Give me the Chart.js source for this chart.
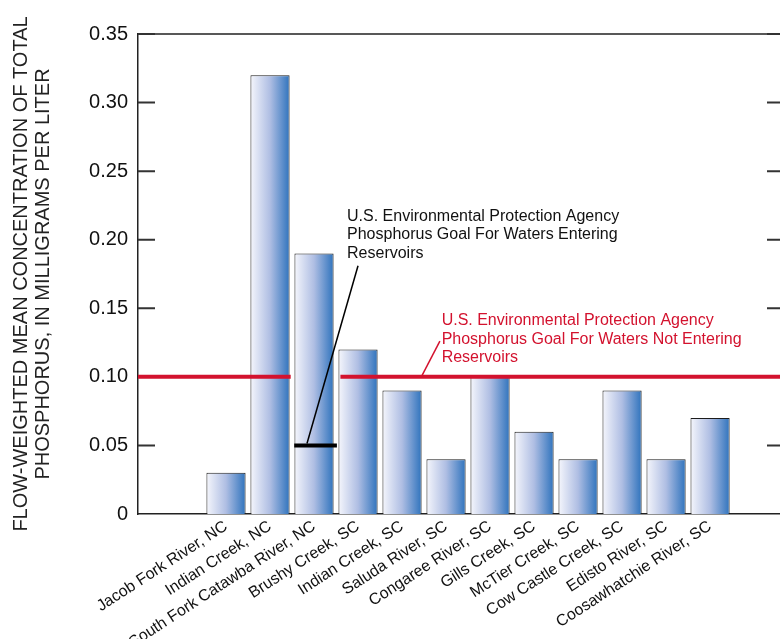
<!DOCTYPE html>
<html>
<head>
<meta charset="utf-8">
<title>Flow-weighted mean phosphorus</title>
<script src="https://cdn.jsdelivr.net/npm/chart.js@4/dist/chart.umd.min.js"></script>
<style>
    html, body { margin: 0; padding: 0; background: #fff; overflow: hidden; }
    #wrap { width: 784px; height: 639px; }
</style>
</head>
<body>
<div id="wrap"><canvas id="chart" width="784" height="639"></canvas></div>
<script>
/* Phosphorus concentrations by station, with EPA goal lines */

var stations = [
    'Jacob Fork River, NC', 'Indian Creek, NC', 'South Fork Catawba River, NC',
    'Brushy Creek, SC', 'Indian Creek, SC', 'Saluda River, SC', 'Congaree River, SC',
    'Gills Creek, SC', 'McTier Creek, SC', 'Cow Castle Creek, SC', 'Edisto River, SC',
    'Coosawhatchie River, SC'
];
var concentration = [0.03, 0.32, 0.19, 0.12, 0.09, 0.04, 0.10, 0.06, 0.04, 0.09, 0.04, 0.07];
var entersReservoir = [false, false, true, false, false, false, false, false, false, false, false, false];

var goalNotEntering = 0.10;
var goalEntering = 0.05;

var yTicks = [0, 0.05, 0.10, 0.15, 0.20, 0.25, 0.30, 0.35];
var yTitle = ['FLOW-WEIGHTED MEAN CONCENTRATION OF TOTAL', 'PHOSPHORUS, IN MILLIGRAMS PER LITER'];
var noteEntering = ['U.S. Environmental Protection Agency', 'Phosphorus Goal For Waters Entering', 'Reservoirs'];
var noteNotEntering = ['U.S. Environmental Protection Agency', 'Phosphorus Goal For Waters Not Entering', 'Reservoirs'];

var FONT = "'Liberation Sans', Arial, Helvetica, sans-serif";
var RED = '#d3122e';
var BAR_PCT = 0.89;

function barGradient(ctx) {
    var chart = ctx.chart;
    var xs = chart.scales.x;
    if (!xs || !chart.chartArea) return '#a9b9e0';
    var cx = xs.getPixelForValue(ctx.dataIndex);
    var half = (xs.getPixelForValue(1) - xs.getPixelForValue(0)) * BAR_PCT / 2;
    var g = chart.ctx.createLinearGradient(cx - half, 0, cx + half, 0);
    g.addColorStop(0, '#f5f6fc');
    g.addColorStop(0.5, '#afbee3');
    g.addColorStop(1, '#2f73bd');
    return g;
}

// frame, inward ticks, goal lines and notes
var overlay = {
    id: 'overlay',
    afterDatasetsDraw: function(chart) {
        var c = chart.ctx;
        var a = chart.chartArea;
        var xs = chart.scales.x;
        var ys = chart.scales.y;
        c.save();

        // top and right frame
        c.strokeStyle = '#222';
        c.lineWidth = 1.5;
        c.beginPath();
        c.moveTo(a.left, a.top);
        c.lineTo(a.right, a.top);
        c.lineTo(a.right, a.bottom);
        c.stroke();

        // inward ticks both sides
        c.lineWidth = 2;
        c.strokeStyle = '#333';
        yTicks.forEach(function(v) {
            if (v === 0) return;
            var y = ys.getPixelForValue(v);
            c.beginPath();
            c.moveTo(a.left, y); c.lineTo(a.left + 17, y);
            c.moveTo(a.right - 17, y); c.lineTo(a.right, y);
            c.stroke();
        });

        // red goal line, broken at reservoir stations
        var yr = ys.getPixelForValue(goalNotEntering);
        c.strokeStyle = RED;
        c.lineWidth = 4;
        var start = a.left;
        entersReservoir.forEach(function(isRes, i) {
            if (!isRes) return;
            c.beginPath();
            c.moveTo(start, yr);
            c.lineTo(xs.getPixelForValue(i - 0.53), yr);
            c.stroke();
            start = xs.getPixelForValue(i + 0.6);
        });
        c.beginPath();
        c.moveTo(start, yr);
        c.lineTo(a.right, yr);
        c.stroke();

        // black goal line on reservoir stations
        var yb = ys.getPixelForValue(goalEntering);
        c.strokeStyle = '#000';
        entersReservoir.forEach(function(isRes, i) {
            if (!isRes) return;
            c.beginPath();
            c.moveTo(xs.getPixelForValue(i - 0.45), yb);
            c.lineTo(xs.getPixelForValue(i + 0.52), yb);
            c.stroke();
        });

        // leaders
        c.lineWidth = 1.5;
        c.strokeStyle = '#000';
        c.beginPath();
        c.moveTo(xs.getPixelForValue(1.84), yb - 2);
        c.lineTo(xs.getPixelForValue(3.0), ys.getPixelForValue(0.181));
        c.stroke();
        c.strokeStyle = RED;
        c.beginPath();
        c.moveTo(xs.getPixelForValue(4.45), yr - 1);
        c.lineTo(xs.getPixelForValue(4.86), ys.getPixelForValue(0.126));
        c.stroke();

        // notes
        c.font = '16px ' + FONT;
        c.textAlign = 'left';
        c.textBaseline = 'middle';
        c.fillStyle = '#111';
        var bx = xs.getPixelForValue(2.75), by = ys.getPixelForValue(0.217);
        noteEntering.forEach(function(t, k) { c.fillText(t, bx, by + k * 18.5); });
        c.fillStyle = RED;
        var rx = xs.getPixelForValue(4.9), ry = ys.getPixelForValue(0.1407);
        noteNotEntering.forEach(function(t, k) { c.fillText(t, rx, ry + k * 18.5); });

        c.restore();
    }
};

new Chart(document.getElementById('chart'), {
    type: 'bar',
    data: {
        datasets: [{
            data: concentration.map(function(v, i) { return { x: i, y: v }; }),
            backgroundColor: barGradient,
            borderColor: '#1c1c1c',
            borderWidth: 1,
            barPercentage: BAR_PCT,
            categoryPercentage: 1
        }]
    },
    options: {
        responsive: false,
        animation: false,
        layout: { padding: { top: 34, left: 0, right: 0, bottom: 0 } },
        plugins: { legend: { display: false }, tooltip: { enabled: false } },
        scales: {
            x: {
                type: 'linear',
                offset: false,
                min: -2,
                max: 12.68,
                grid: { display: false, drawTicks: false, offset: false },
                border: { display: true, color: '#222', width: 1.5 },
                afterBuildTicks: function(scale) {
                    scale.ticks = stations.map(function(s, i) { return { value: i }; });
                },
                afterFit: function(scale) {
                    scale.height = 125;
                    scale.paddingLeft = 0;
                    scale.paddingRight = 0;
                },
                ticks: {
                    autoSkip: false,
                    minRotation: 33,
                    maxRotation: 33,
                    padding: 3,
                    color: '#111',
                    font: { family: FONT, size: 16 },
                    callback: function(v) { return stations[Math.round(v)]; }
                }
            },
            y: {
                min: 0,
                max: 0.35,
                grid: { display: false, drawTicks: false },
                border: { display: true, color: '#222', width: 1.5 },
                afterBuildTicks: function(scale) {
                    scale.ticks = yTicks.map(function(v) { return { value: v }; });
                },
                afterFit: function(scale) { scale.width = 138; },
                ticks: {
                    padding: 10,
                    color: '#111',
                    font: { family: FONT, size: 20 },
                    callback: function(v) { return v === 0 ? '0' : v.toFixed(2); }
                },
                title: {
                    display: true,
                    text: yTitle,
                    color: '#222',
                    padding: { top: 10, bottom: 0 },
                    font: { family: FONT, size: 20, lineHeight: 1.1 }
                }
            }
        }
    },
    plugins: [overlay]
});
</script>
</body>
</html>
